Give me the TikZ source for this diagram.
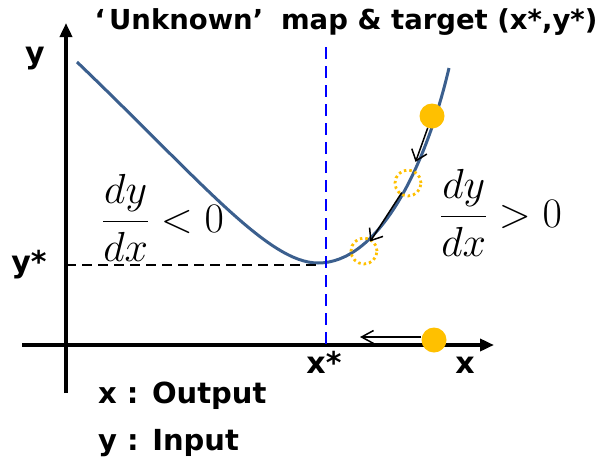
\RequirePackage{fix-cm}
\documentclass[tikz,border=0pt]{standalone}
\usepackage{amsmath}
\usepackage{fontspec}
\setmainfont{DejaVu Sans}
\usetikzlibrary{arrows.meta,positioning,calc}
\definecolor{curveblue}{HTML}{3B5F8E}
\definecolor{dotorange}{HTML}{FFC000}
\definecolor{guideblue}{HTML}{0000FF}
\tikzset{
  axisline/.style={line width=3.5pt,-{Triangle[length=14pt,width=12pt]}},
  mapcurve/.style={draw=curveblue,line width=3pt},
  targetline/.style={dashed,dash pattern=on 10pt off 6pt,line width=1.4pt},
  guideline/.style={draw=guideblue,dash pattern=on 12pt off 7pt,line width=1.6pt},
  axislabel/.style={font=\fontsize{30}{34}\selectfont\bfseries,inner sep=0pt,anchor=base},
  rolelabel/.style={font=\fontsize{29}{33}\selectfont\bfseries,inner sep=0pt,anchor=base west},
  titlelabel/.style={font=\fontsize{27.5}{32}\selectfont\bfseries,inner sep=0pt,anchor=base},
  slopelabel/.style={font=\fontsize{42}{48}\selectfont,inner sep=0pt},
  guessdot/.style={circle,fill=dotorange,minimum size=25pt,inner sep=0pt},
  stepring/.style={circle,draw=dotorange,dash pattern=on 2.5pt off 3pt,line width=2.8pt,
                   minimum size=26pt,inner sep=0pt},
  steparr/.style={-{Straight Barb[length=10pt,width=16pt]},line width=1.5pt},
  xsteparr/.style={-{Straight Barb[length=12pt,width=13pt]},line width=1.5pt}
}

\begin{document}
\begin{tikzpicture}[x=1pt,y=-1pt]
  \useasboundingbox (0,0) rectangle (612,466);

  % axes
  \coordinate (ybot) at (66,393);
  \coordinate (ytop) at (66,23);
  \coordinate (xleft) at (22,345);
  \coordinate (xright) at (494,345);
  \draw[axisline] (ybot) -- (ytop);
  \draw[axisline] (xleft) -- (xright);

  % the unknown map
  \coordinate (mapstart) at (77,62);
  \coordinate (mapmin) at (318,263);
  \coordinate (mapend) at (449,68);
  \draw[mapcurve] (mapstart) .. controls (200,180) and (268,263) .. (mapmin)
    .. controls (378,263) and (425,170) .. (mapend);

  % target (x*,y*)
  \coordinate (ystar) at (66,265);
  \coordinate (ystarend) at (320,265);
  \coordinate (xtop) at (326,47);
  \coordinate (xstar) at (326,345);
  \draw[targetline] (ystar) -- (ystarend);
  \draw[guideline] (xtop) -- (xstar);

  % gradient steps on the map
  \node[guessdot] (guess0) at (432,116) {};
  \node[stepring] (guess1) at (408,183) {};
  \node[stepring] (guess2) at (364,251) {};
  \draw[steparr,shorten >=8pt] (guess0) -- (guess1);
  \draw[steparr,shorten <=-3pt,shorten >=-3pt] (guess1) -- (guess2);

  % step on the x axis
  \node[guessdot] (xguess) at (434,340) {};
  \coordinate (xstepend) at (360,337);
  \draw[xsteparr] ([yshift=3pt]xguess.west) -- (xstepend);

  % labels
  \node[titlelabel] (title) at (346,29) {‘\kern0.15em Unknown’\kern0.3em\ map \& target (x*,y*)};
  \node[axislabel] (ylab) at (35,63) {y};
  \node[axislabel] (ystarlab) at (29,272) {y*};
  \node[axislabel] (xstarlab) at (324,373) {x*};
  \node[axislabel] (xlab) at (465,373) {x};
  \node[rolelabel] (xrole) at (98,403) {x : Output};
  \node[rolelabel] (yrole) at (98,450) {y : Input};
  \node[slopelabel] (slopeneg) at (163,218) {$\dfrac{dy}{dx}<0$};
  \node[slopelabel] (slopepos) at (501,213) {$\dfrac{dy}{dx}>0$};
\end{tikzpicture}
\end{document}
